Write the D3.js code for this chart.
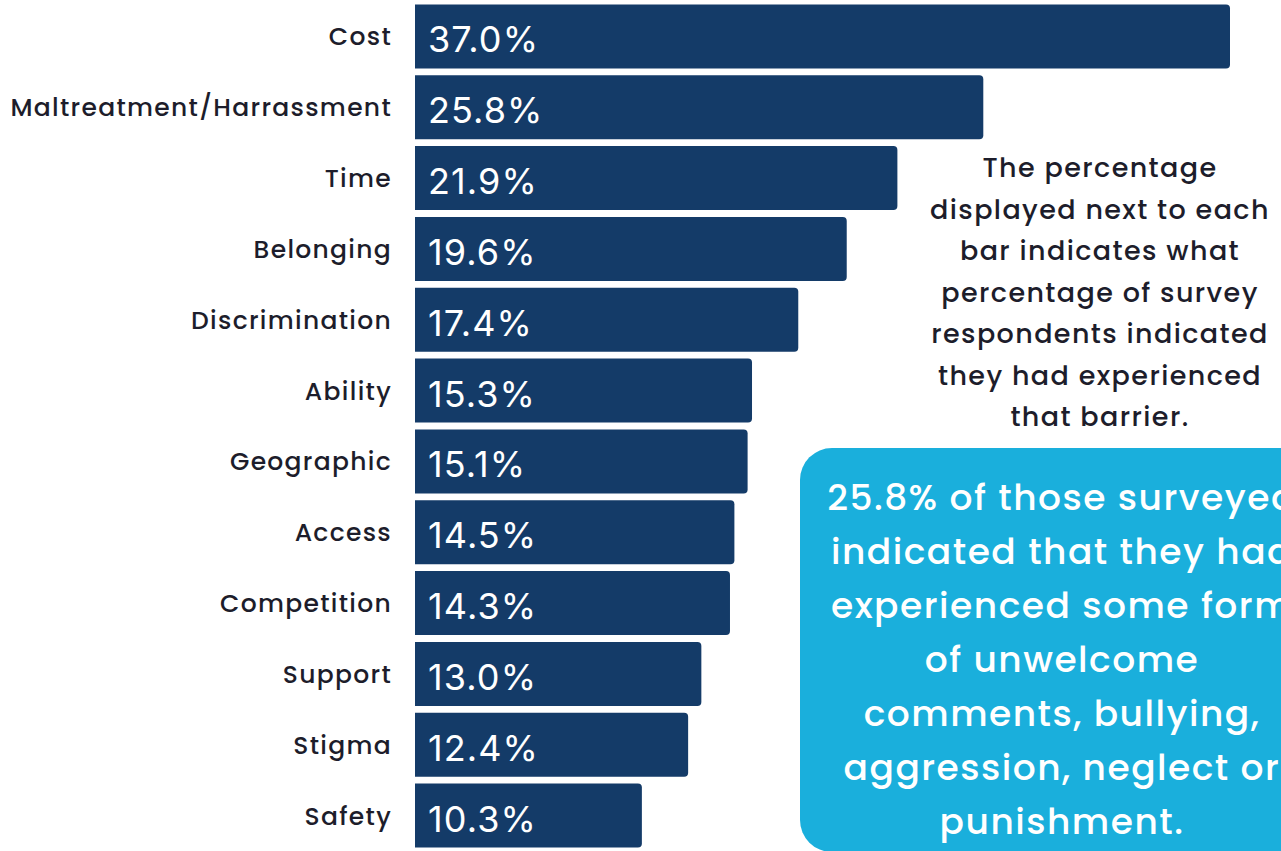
<!DOCTYPE html>
<html>
<head>
<meta charset="utf-8">
<script src="https://cdn.jsdelivr.net/npm/d3@7"></script>
<style>
  html, body { margin: 0; padding: 0; background: #ffffff; }
  svg { display: block; }
</style>
</head>
<body>
<svg id="chart" width="1281" height="851"></svg>
<script>
// Barriers reported by survey respondents (% of respondents)
const categories = ["Cost", "Maltreatment/Harrassment", "Time", "Belonging", "Discrimination",
  "Ability", "Geographic", "Access", "Competition", "Support", "Stigma", "Safety"];
const values = [37.0, 25.8, 21.9, 19.6, 17.4, 15.3, 15.1, 14.5, 14.3, 13.0, 12.4, 10.3];

const noteLines = ["The percentage", "displayed next to each", "bar indicates what",
  "percentage of survey", "respondents indicated", "they had experienced", "that barrier."];
const calloutLines = ["25.8% of those surveyed", "indicated that they had",
  "experienced some form", "of unwelcome", "comments, bullying,",
  "aggression, neglect or", "punishment."];

const W = 1281, H = 851;
const svg = d3.select("#chart");

const labelFont = "Poppins, 'DejaVu Sans', sans-serif";
const valueFont = "Inter, Roboto, sans-serif";

const x = d3.scaleLinear().domain([0, 37]).range([415, 1230]);
const y = d3.scaleBand().domain(categories).range([1, 851])
  .paddingInner(0.097).paddingOuter(0.0485);

const data = categories.map((c, i) => ({ cat: c, val: values[i] }));
const bw = y.bandwidth();

// bar with square left side and slightly rounded right corners
function barPath(d) {
  const x0 = x(0), x1 = x(d.val), y0 = y(d.cat), y1 = y0 + bw, r = 4;
  return `M${x0},${y0}H${x1 - r}Q${x1},${y0} ${x1},${y0 + r}V${y1 - r}Q${x1},${y1} ${x1 - r},${y1}H${x0}Z`;
}

svg.append("g").selectAll("path").data(data).join("path")
  .attr("d", barPath)
  .attr("fill", "#143b68");

// percentage inside each bar
svg.append("g").selectAll("text").data(data).join("text")
  .attr("x", x(0) + 13)
  .attr("y", d => y(d.cat) + bw / 2 + 16)
  .attr("fill", "#ffffff")
  .attr("font-family", valueFont)
  .attr("font-size", 36)
  .attr("letter-spacing", 1.1)
  .text(d => d3.format(".1f")(d.val) + "%");

// category labels
svg.append("g").selectAll("text").data(data).join("text")
  .attr("x", 392)
  .attr("y", d => y(d.cat) + bw / 2 + 9)
  .attr("text-anchor", "end")
  .attr("fill", "#1d1d2b")
  .attr("font-family", labelFont)
  .attr("font-size", 25)
  .attr("font-weight", 500)
  .attr("letter-spacing", 1.3)
  .text(d => d.cat);

// explanatory note
svg.append("g").selectAll("text").data(noteLines).join("text")
  .attr("x", 1100)
  .attr("y", (d, i) => 177 + i * 41.5)
  .attr("text-anchor", "middle")
  .attr("fill", "#1d1d2b")
  .attr("font-family", labelFont)
  .attr("font-size", 27)
  .attr("font-weight", 500)
  .attr("letter-spacing", 1.4)
  .text(d => d);

// highlighted callout
svg.append("rect")
  .attr("x", 800).attr("y", 448)
  .attr("width", 560).attr("height", 404)
  .attr("rx", 32).attr("ry", 32)
  .attr("fill", "#1aafdc");

svg.append("g").selectAll("text").data(calloutLines).join("text")
  .attr("x", 1062)
  .attr("y", (d, i) => 510 + i * 54)
  .attr("text-anchor", "middle")
  .attr("fill", "#ffffff")
  .attr("font-family", labelFont)
  .attr("font-size", 36)
  .attr("font-weight", 500)
  .attr("letter-spacing", 1.5)
  .text(d => d);
</script>
</body>
</html>
